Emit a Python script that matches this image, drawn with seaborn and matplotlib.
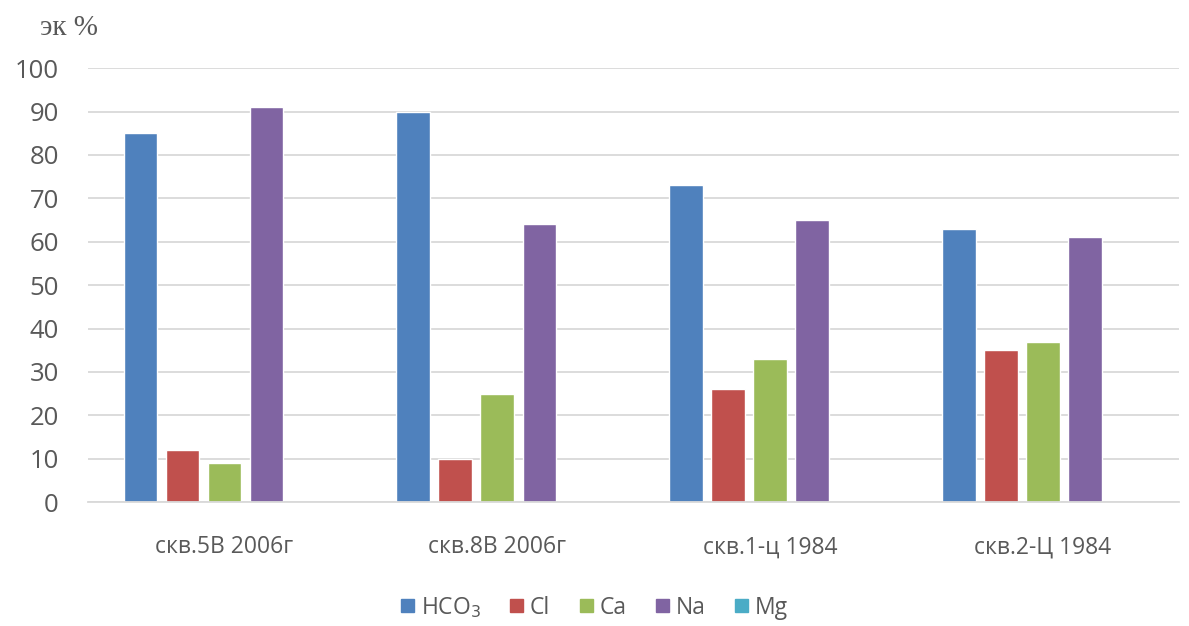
import matplotlib
matplotlib.use("Agg")
import matplotlib.pyplot as plt
import seaborn as sns
import pandas as pd

categories = ["скв.5В 2006г", "скв.8В 2006г", "скв.1-ц 1984", "скв.2-Ц 1984"]
series = ["HCO$_3$", "Cl", "Ca", "Na", "Mg"]
hco3 = [85, 90, 73, 63]
cl = [12, 10, 26, 35]
ca = [9, 25, 33, 37]
na = [91, 64, 65, 61]
mg = [0, 0, 0, 0]
yticks = [0, 10, 20, 30, 40, 50, 60, 70, 80, 90, 100]

colors = ["#4F81BD", "#C0504D", "#9BBB59", "#8064A2", "#4BACC6"]

rows = []
for name, vals in zip(series, [hco3, cl, ca, na, mg]):
    for cat, v in zip(categories, vals):
        rows.append({"well": cat, "ion": name, "value": v})
df = pd.DataFrame(rows)

sns.set_theme(style="white")
plt.rcParams["font.family"] = ["Open Sans", "DejaVu Sans"]

fig = plt.figure(figsize=(11.89, 6.26), dpi=100)
ax = fig.add_axes([0.074, 0.198, 0.918, 0.693])

sns.barplot(data=df, x="well", y="value", hue="ion", order=categories,
            hue_order=series, palette=colors, width=0.77, gap=0.2,
            saturation=1, ax=ax, legend=False)

ax.set_ylim(0, 100)
ax.set_yticks(yticks)
ax.set_xlim(-0.5, len(categories) - 0.5)
ax.yaxis.grid(True, color="#D9D9D9", linewidth=1.3)
ax.set_axisbelow(True)
for s in ["top", "right", "left"]:
    ax.spines[s].set_visible(False)
ax.spines["bottom"].set_color("#D9D9D9")
ax.spines["bottom"].set_linewidth(1.3)
ax.tick_params(axis="y", length=0, labelsize=18.5, labelcolor="#595959", pad=21)
ax.tick_params(axis="x", length=0, labelsize=16.5, labelcolor="#595959", pad=24)
ax.set_xlabel("")
ax.set_ylabel("")

fig.text(0.034, 0.955, "эк %", fontsize=21, color="#595959",
         family=["Liberation Serif"], ha="left", va="center")

handles = [plt.Rectangle((0, 0), 1, 1, color=c) for c in colors]
fig.legend(handles, series, loc="center", bbox_to_anchor=(0.5, 0.03),
           ncol=5, frameon=False, fontsize=16.5, handlelength=0.55,
           handleheight=0.55, handletextpad=0.3, columnspacing=1.3,
           labelcolor="#595959")

fig.savefig("out.png", dpi=100, facecolor="white")
